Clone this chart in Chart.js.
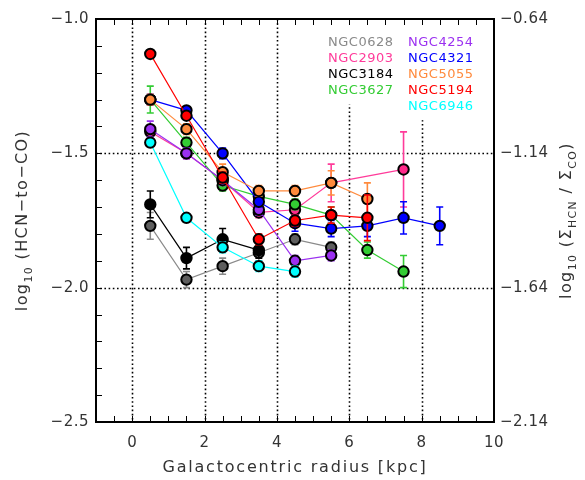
<!DOCTYPE html>
<html>
<head>
<meta charset="utf-8">
<script src="https://cdn.jsdelivr.net/npm/chart.js@4/dist/chart.umd.min.js"></script>
<style>
  html, body { margin: 0; padding: 0; background: #fff; }
  #wrap { width: 585px; height: 480px; }
</style>
</head>
<body>
<div id="wrap"><canvas id="myChart" width="585" height="480"></canvas></div>
<script>
// radial bins (kpc)
const radius = [0.5, 1.5, 2.5, 3.5, 4.5, 5.5, 6.5, 7.5, 8.5];

const galaxies = ["NGC0628", "NGC2903", "NGC3184", "NGC3627", "NGC4254",
                  "NGC4321", "NGC5055", "NGC5194", "NGC6946"];

// log10 HCN-to-CO per bin, null = no point
const ngc0628 = [-1.77, -1.97, -1.92, -1.87, -1.82, -1.85, null, null, null];
const ngc2903 = [-1.42, -1.50, -1.60, -1.72, -1.71, -1.61, null, -1.56, null];
const ngc3184 = [-1.69, -1.89, -1.82, -1.86, null, null, null, null, null];
const ngc3627 = [-1.30, -1.46, -1.62, -1.66, -1.69, -1.73, -1.86, -1.94, null];
const ngc4254 = [-1.41, -1.50, -1.60, -1.71, -1.90, -1.88, null, null, null];
const ngc4321 = [-1.30, -1.34, -1.50, -1.68, -1.76, -1.78, -1.77, -1.74, -1.77];
const ngc5055 = [-1.30, -1.41, -1.57, -1.64, -1.64, -1.61, -1.67, null, null];
const ngc5194 = [-1.13, -1.36, -1.59, -1.82, -1.75, -1.73, -1.74, null, null];
const ngc6946 = [-1.46, -1.74, -1.85, -1.92, -1.94, null, null, null, null];

// 1 sigma errors
const ngc0628Err = [0.05, 0.03, 0.03, 0.03, 0.02, 0.02, null, null, null];
const ngc2903Err = [0.02, 0.02, 0.02, 0.02, 0.03, 0.07, null, 0.14, null];
const ngc3184Err = [0.05, 0.04, 0.04, 0.03, null, null, null, null, null];
const ngc3627Err = [0.05, 0.02, 0.02, 0.02, 0.02, 0.03, 0.03, 0.06, null];
const ngc4254Err = [0.03, 0.02, 0.02, 0.02, 0.02, 0.02, null, null, null];
const ngc4321Err = [0.02, 0.01, 0.02, 0.02, 0.03, 0.03, 0.04, 0.06, 0.07];
const ngc5055Err = [0.02, 0.02, 0.03, 0.02, 0.02, 0.045, 0.06, null, null];
const ngc5194Err = [0.01, 0.01, 0.02, 0.02, 0.02, 0.03, 0.085, null, null];
const ngc6946Err = [0.01, 0.01, 0.02, 0.02, 0.02, null, null, null, null];

const values = [ngc0628, ngc2903, ngc3184, ngc3627, ngc4254, ngc4321, ngc5055, ngc5194, ngc6946];
const errors = [ngc0628Err, ngc2903Err, ngc3184Err, ngc3627Err, ngc4254Err, ngc4321Err, ngc5055Err, ngc5194Err, ngc6946Err];

const lineColors = ["#8a8a8a", "#ff3b9a", "#000000", "#33cc33", "#9b30f0",
                    "#0000ff", "#ff8a3c", "#ff0000", "#00ffff"];
const fillColors = ["#5e5e5e", "#ff2a8a", "#000000", "#33cc33", "#9b30f0",
                    "#0000ff", "#ff8a3c", "#ff0000", "#00ffff"];

const xTicks = [0, 2, 4, 6, 8, 10];
const yTicksLeft = [-1.0, -1.5, -2.0, -2.5];
const yTicksRight = [-0.64, -1.14, -1.64, -2.14];
const gridX = [0, 2, 4, 6, 8];
const gridY = [-1.5, -2.0];

const FONT = '"DejaVu Sans", sans-serif';

function fmt(v, d) {
    return (v < 0 ? "\u2212" : "") + Math.abs(v).toFixed(d);
}

// draws text made of pieces, small ones lowered as subscripts
function drawPieces(ctx, pieces, cx, cy, size) {
    let total = 0;
    pieces.forEach(p => {
        ctx.font = (p[1] ? size * 0.68 : size) + "px " + FONT;
        total += ctx.measureText(p[0]).width;
    });
    let px = cx - total / 2;
    ctx.textAlign = "left";
    ctx.textBaseline = "alphabetic";
    pieces.forEach(p => {
        ctx.font = (p[1] ? size * 0.68 : size) + "px " + FONT;
        ctx.fillText(p[0], px, cy + (p[1] ? size * 0.3 : 0));
        px += ctx.measureText(p[0]).width;
    });
}

const legendCols = [[0, 1, 2, 3], [4, 5, 6, 7, 8]];

const framePlugin = {
    id: "framePlugin",
    beforeDatasetsDraw(chart) {
        const ctx = chart.ctx;
        const a = chart.chartArea;
        const xs = chart.scales.x, ys = chart.scales.y;
        ctx.save();
        ctx.strokeStyle = "#000";
        ctx.lineWidth = 1.6;
        ctx.setLineDash([1.6, 2.6]);
        gridX.forEach(g => {
            const px = Math.round(xs.getPixelForValue(g)) + 0.5;
            ctx.beginPath();
            ctx.moveTo(px, a.top);
            ctx.lineTo(px, a.bottom);
            ctx.stroke();
        });
        gridY.forEach(g => {
            const py = Math.round(ys.getPixelForValue(g)) + 0.5;
            ctx.beginPath();
            ctx.moveTo(a.left, py);
            ctx.lineTo(a.right, py);
            ctx.stroke();
        });
        ctx.setLineDash([]);

        // legend, on white so the grid stops below it
        ctx.font = "13px " + FONT;
        ctx.letterSpacing = "0.5px";
        ctx.textBaseline = "middle";
        ctx.textAlign = "left";
        legendCols.forEach((col, c) => {
            const lx = c === 0 ? 328 : 408;
            const lastY = 43 + (col.length - 1) * 15.8;
            ctx.fillStyle = "#fff";
            ctx.fillRect(lx - 4, a.top + 1, 72, lastY + 13 - a.top);
            col.forEach((gi, r) => {
                ctx.fillStyle = lineColors[gi];
                ctx.fillText(galaxies[gi], lx, 43 + r * 15.8);
            });
        });
        ctx.restore();
    },
    beforeDatasetDraw(chart, args) {
        const ctx = chart.ctx;
        const xs = chart.scales.x, ys = chart.scales.y;
        const i = args.index;
        ctx.save();
        ctx.strokeStyle = lineColors[i];
        ctx.lineWidth = 1.6;
        radius.forEach((r, k) => {
            const v = values[i][k], e = errors[i][k];
            if (v === null || e === null) return;
            const px = xs.getPixelForValue(r);
            const y1 = ys.getPixelForValue(v + e);
            const y2 = ys.getPixelForValue(v - e);
            ctx.beginPath();
            ctx.moveTo(px, y1); ctx.lineTo(px, y2);
            ctx.moveTo(px - 3.5, y1); ctx.lineTo(px + 3.5, y1);
            ctx.moveTo(px - 3.5, y2); ctx.lineTo(px + 3.5, y2);
            ctx.stroke();
        });
        ctx.restore();
    },
    afterDraw(chart) {
        const ctx = chart.ctx;
        const a = chart.chartArea;
        const xs = chart.scales.x, ys = chart.scales.y, y2s = chart.scales.y2;
        ctx.save();
        ctx.strokeStyle = "#000";
        ctx.lineWidth = 1;
        ctx.beginPath();
        for (let v = -1; v <= 10.001; v += 0.5) {
            const px = Math.round(xs.getPixelForValue(v)) + 0.5;
            ctx.moveTo(px, a.bottom); ctx.lineTo(px, a.bottom - 6);
            ctx.moveTo(px, a.top); ctx.lineTo(px, a.top + 6);
        }
        for (let v = -2.5; v <= -0.999; v += 0.1) {
            const py = Math.round(ys.getPixelForValue(v)) + 0.5;
            ctx.moveTo(a.left, py); ctx.lineTo(a.left + 6, py);
        }
        ctx.stroke();
        ctx.lineWidth = 2;
        ctx.strokeRect(a.left, a.top, a.right - a.left, a.bottom - a.top);

        ctx.fillStyle = "#333";
        ctx.font = "15px " + FONT;
        ctx.letterSpacing = "0.5px";
        ctx.textBaseline = "middle";
        ctx.textAlign = "right";
        yTicksLeft.forEach(v => ctx.fillText(fmt(v, 1), a.left - 7, ys.getPixelForValue(v)));
        ctx.textAlign = "left";
        yTicksRight.forEach(v => ctx.fillText(fmt(v, 2), a.right + 6, y2s.getPixelForValue(v)));
        ctx.textAlign = "center";
        xTicks.forEach(v => ctx.fillText(String(v), xs.getPixelForValue(v), a.bottom + 21));

        ctx.font = "16px " + FONT;
        ctx.letterSpacing = "1.8px";
        ctx.fillText("Galactocentric radius [kpc]", (a.left + a.right) / 2, a.bottom + 46);

        const midY = (a.top + a.bottom) / 2;
        ctx.letterSpacing = "1.4px";
        ctx.save();
        ctx.translate(27, midY);
        ctx.rotate(-Math.PI / 2);
        drawPieces(ctx, [["log", 0], ["10", 1], [" (HCN\u2212to\u2212CO)", 0]], 0, 0, 16);
        ctx.restore();

        ctx.save();
        ctx.translate(571, midY);
        ctx.rotate(-Math.PI / 2);
        drawPieces(ctx, [["log", 0], ["10", 1], [" (\u03A3", 0], ["HCN", 1],
                         [" / \u03A3", 0], ["CO", 1], [")", 0]], 0, 0, 16);
        ctx.restore();
        ctx.restore();
    }
};

document.addEventListener("DOMContentLoaded", function () {
    const datasets = galaxies.map((name, i) => ({
        label: name,
        data: radius.map((r, k) => ({ x: r, y: values[i][k] })).filter(p => p.y !== null),
        borderColor: lineColors[i],
        borderWidth: 1.2,
        backgroundColor: fillColors[i],
        pointBackgroundColor: fillColors[i],
        pointBorderColor: "#000",
        pointBorderWidth: 2,
        pointRadius: 5.2,
        pointHoverRadius: 5.2,
        tension: 0,
        fill: false,
        order: galaxies.length - i
    }));

    new Chart(document.getElementById("myChart"), {
        type: "line",
        data: { datasets: datasets },
        options: {
            responsive: false,
            animation: false,
            devicePixelRatio: 1,
            layout: { padding: { left: 96, right: 91, top: 19, bottom: 58 } },
            plugins: { legend: { display: false }, tooltip: { enabled: false } },
            scales: {
                x: { type: "linear", min: -1, max: 10, display: false },
                y: { type: "linear", min: -2.5, max: -1.0, display: false },
                y2: { type: "linear", min: -2.14, max: -0.64, display: false }
            }
        },
        plugins: [framePlugin]
    });
});
</script>
</body>
</html>
